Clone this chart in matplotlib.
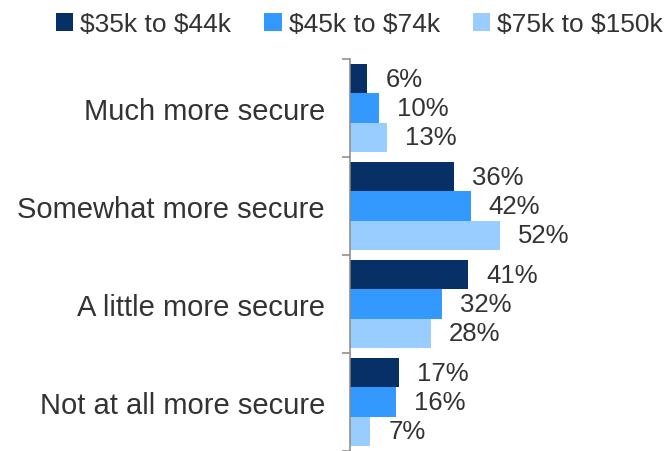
import numpy as np
import matplotlib.pyplot as plt
from matplotlib.ticker import FixedLocator

plt.rcParams["font.family"] = ["Liberation Sans", "DejaVu Sans"]
plt.rcParams["text.parse_math"] = False

categories = ["Much more secure", "Somewhat more secure",
              "A little more secure", "Not at all more secure"]
series = ["$35k to $44k", "$45k to $74k", "$75k to $150k"]
income_35_44 = [6, 36, 41, 17]
income_45_74 = [10, 42, 32, 16]
income_75_150 = [13, 52, 28, 7]
colors = ["#063066", "#3399FF", "#99CCFF"]

values = [income_35_44, income_45_74, income_75_150]
text_col = "#333333"

fig = plt.figure(figsize=(6.72, 4.52), dpi=100)
ax = fig.add_axes([350 / 672, 0.0, 322 / 672, 392 / 452])

y = np.arange(len(categories))
h = 0.3
for i, (vals, col, name) in enumerate(zip(values, colors, series)):
    pos = y + (i - 1) * h
    bars = ax.barh(pos, vals, height=h, color=col, label=name)
    for b, v in zip(bars, vals):
        ax.annotate(f"{v}%", xy=(v, b.get_y() + b.get_height() / 2),
                    xytext=(13, 0), textcoords="offset points",
                    ha="left", va="center", fontsize=18.5, color=text_col)

ax.set_xlim(0, 112)
ax.set_ylim(3.5, -0.5)
ax.set_xticks([])
ax.set_yticks(y)
ax.set_yticklabels(categories, fontsize=21, color=text_col)
ax.yaxis.set_minor_locator(FixedLocator([-0.5, 0.5, 1.5, 2.5, 3.5]))
ax.tick_params(axis="y", which="major", length=0, pad=18)
ax.tick_params(axis="y", which="minor", length=6, width=1.1, color="#888888")
for s in ["top", "right", "bottom"]:
    ax.spines[s].set_visible(False)
ax.spines["left"].set_color("#888888")
ax.spines["left"].set_linewidth(1.1)

fig.legend(loc="center", bbox_to_anchor=(0.535, 1 - 25 / 452), ncol=3,
           frameon=False, fontsize=19, handlelength=0.65, handleheight=0.65,
           handletextpad=0.27, columnspacing=1.25, labelcolor=text_col)

fig.savefig("out.png", dpi=100)
